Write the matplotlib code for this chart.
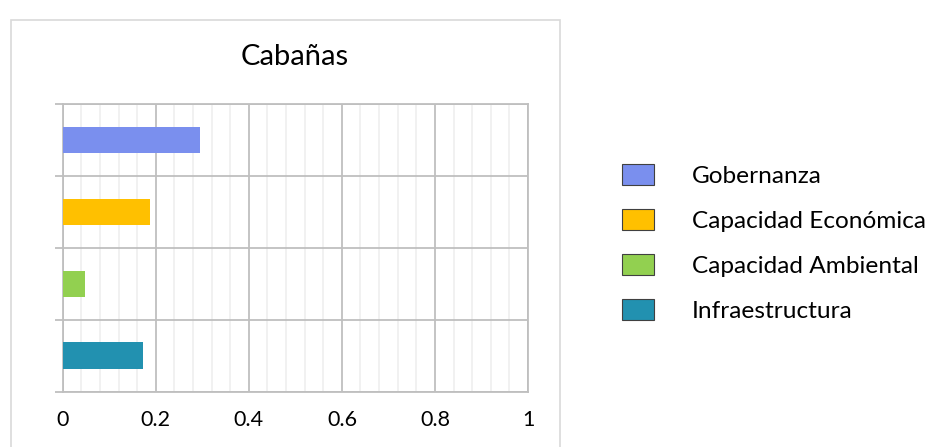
import matplotlib
matplotlib.use("Agg")
import matplotlib.pyplot as plt
from matplotlib.patches import Patch, Rectangle
import numpy as np

plt.rcParams['font.family'] = ['Lato', 'DejaVu Sans']

# data (top to bottom)
categories = ['Gobernanza', 'Capacidad Económica', 'Capacidad Ambiental', 'Infraestructura']
values = [0.295, 0.188, 0.048, 0.173]
colors = ['#7a8fee', '#ffc000', '#92d050', '#2291b0']
xticks = [0, 0.2, 0.4, 0.6, 0.8, 1]
xtick_labels = ['0', '0.2', '0.4', '0.6', '0.8', '1']
title = 'Cabañas'

W, H = 929, 447
fig = plt.figure(figsize=(W / 100, H / 100), dpi=100)

# outer chart frame (Excel chart area)
fig.patches.append(Rectangle((11 / W, -0.05), (560 - 11) / W, 1.05 - 20 / H,
                             transform=fig.transFigure, fill=False,
                             edgecolor='#d9d9d9', lw=1.2))

ax = fig.add_axes([62.7 / W, 1 - 391.7 / H, (528 - 62.7) / W, (391.7 - 104) / H])

grid_c = '#bfbfbf'
ypos = np.arange(len(categories))[::-1] + 0.5
ax.barh(ypos, values, height=0.37, color=colors, zorder=3)

ax.set_xlim(0, 1)
ax.set_ylim(0, 4)
ax.set_xticks(xticks)
ax.set_xticklabels(xtick_labels, fontsize=15.5)
ax.set_xticks(np.arange(0, 1.0001, 0.04), minor=True)
ax.set_yticks([0, 1, 2, 3, 4])
ax.set_yticklabels([])
ax.tick_params(axis='x', which='both', length=0, pad=13, colors='black')
ax.tick_params(axis='y', length=6, width=1.3, color=grid_c)
ax.grid(which='major', color=grid_c, lw=1.3, zorder=1)
ax.grid(which='minor', axis='x', color='#f0f0f0', lw=1.3, zorder=0)
for s in ax.spines.values():
    s.set_color(grid_c)
    s.set_linewidth(1.3)
ax.set_axisbelow(True)

fig.text(295 / W, 1 - 57 / H, title, fontsize=21, ha='center', va='center')

handles = [Patch(facecolor=c, edgecolor='#404040', lw=0.8) for c in colors]
fig.legend(handles, categories, loc='upper left', bbox_to_anchor=(622 / W, 1 - 164 / H),
           frameon=False, fontsize=17.6, handlelength=1.3, handleheight=0.97,
           handletextpad=1.56, labelspacing=0.89, borderpad=0, borderaxespad=0)

fig.savefig('out.png', dpi=100)
